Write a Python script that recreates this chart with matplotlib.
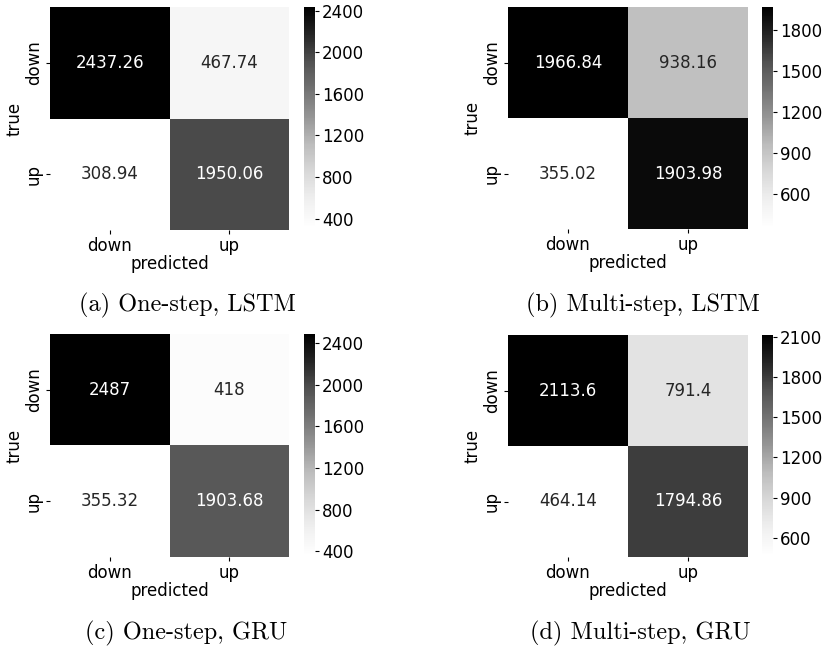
import matplotlib
matplotlib.use('Agg')
import matplotlib.pyplot as plt
import seaborn as sns
import numpy as np

labels = ['down', 'up']

cm_one_lstm = [[2437.26, 467.74], [308.94, 1950.06]]
cm_multi_lstm = [[1966.84, 938.16], [355.02, 1903.98]]
cm_one_gru = [[2487, 418], [355.32, 1903.68]]
cm_multi_gru = [[2113.6, 791.4], [464.14, 1794.86]]

ticks_one_lstm = [400, 800, 1200, 1600, 2000, 2400]
ticks_multi_lstm = [600, 900, 1200, 1500, 1800]
ticks_one_gru = [400, 800, 1200, 1600, 2000, 2400]
ticks_multi_gru = [600, 900, 1200, 1500, 1800, 2100]

captions = ['(a) One-step, LSTM', '(b) Multi-step, LSTM',
            '(c) One-step, GRU', '(d) Multi-step, GRU']

W, H = 826, 652
fs = 12

def px_box(x0, y0, x1, y1):
	return [x0 / W, 1 - y1 / H, (x1 - x0) / W, (y1 - y0) / H]

fig = plt.figure(figsize=(W / 100, H / 100), dpi=100)

panels = [
	(cm_one_lstm, ticks_one_lstm, (50, 7, 289, 230), (304, 7, 315, 228), (187, 305)),
	(cm_multi_lstm, ticks_multi_lstm, (508, 7, 748, 229), (762, 7, 773, 228), (643, 305)),
	(cm_one_gru, ticks_one_gru, (50, 334, 289, 557), (304, 334, 315, 556), (186, 633)),
	(cm_multi_gru, ticks_multi_gru, (508, 335, 748, 557), (762, 335, 773, 556), (640, 633)),
]

for i, (cm, cticks, hbox, cbox, cap) in enumerate(panels):
	ax = fig.add_axes(px_box(*hbox))
	cax = fig.add_axes(px_box(*cbox))
	sns.heatmap(np.array(cm), annot=True, fmt='g', cmap='Greys', ax=ax, cbar_ax=cax,
	            xticklabels=labels, yticklabels=labels, annot_kws={'size': fs})
	ax.set_xlabel('predicted', fontsize=fs, labelpad=0)
	ax.set_ylabel('true', fontsize=fs, labelpad=1)
	ax.tick_params(labelsize=fs, length=3, pad=2)
	plt.setp(ax.get_yticklabels(), rotation=90, va='center')
	plt.setp(ax.get_xticklabels(), rotation=0)
	cax.set_yticks(cticks)
	cax.tick_params(labelsize=fs, length=3, pad=2)
	fig.text(cap[0] / W, 1 - cap[1] / H, captions[i], family='cmr10', fontsize=17.5,
	         ha='center', va='center')

fig.savefig('out.png', dpi=100)
